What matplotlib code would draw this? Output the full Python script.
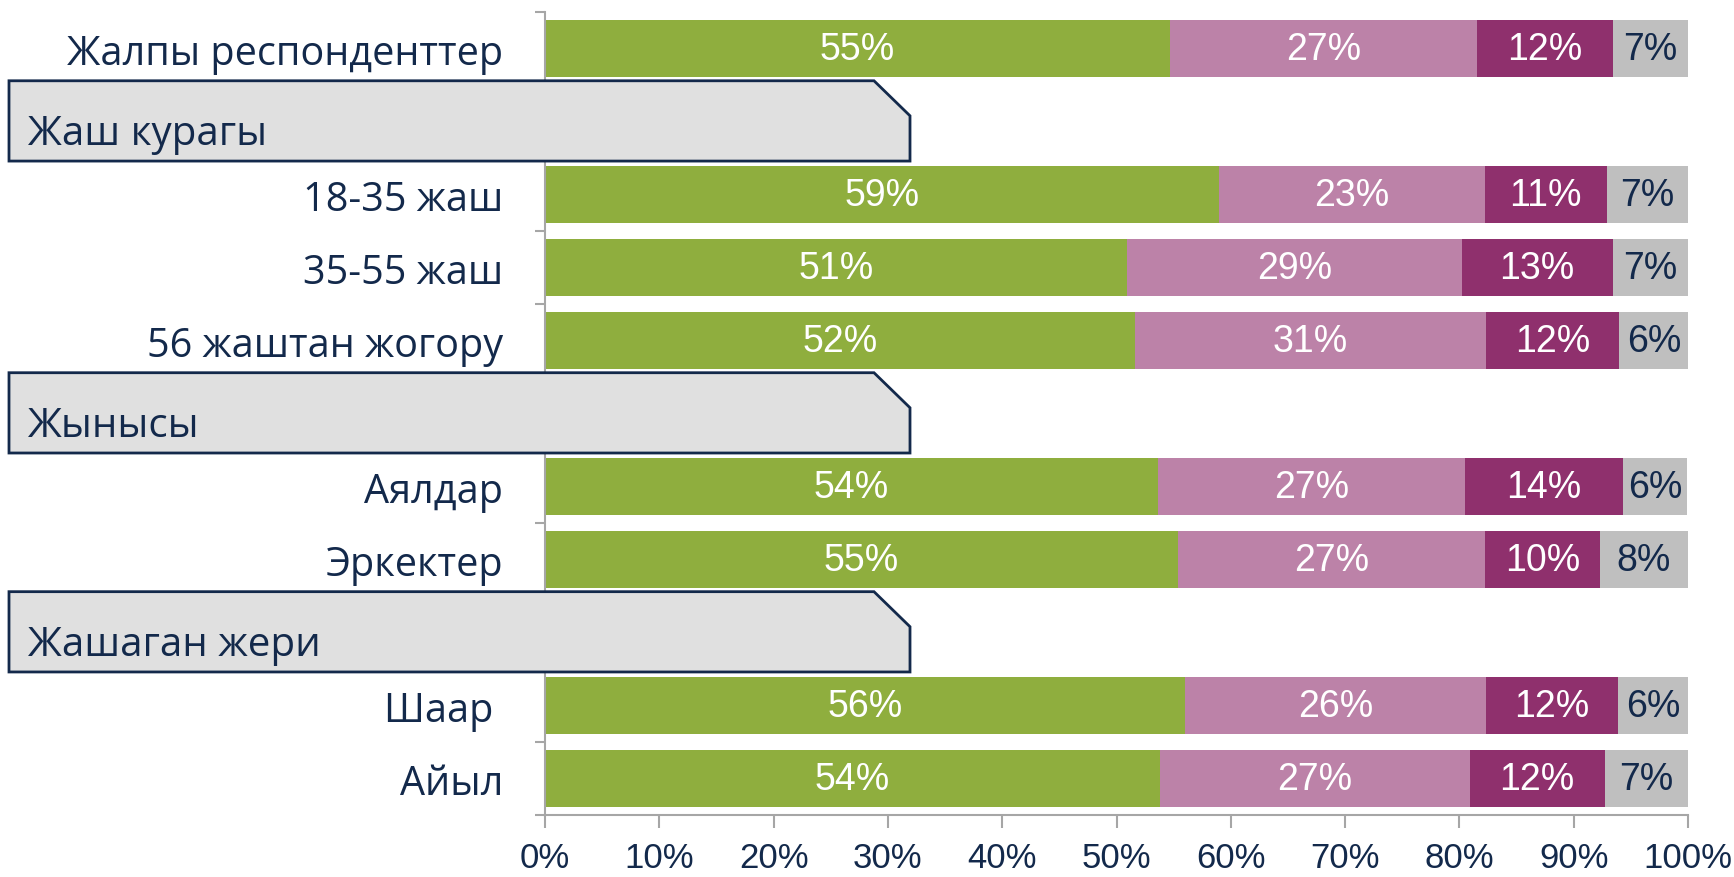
import matplotlib
matplotlib.use('Agg')
import matplotlib.pyplot as plt
from matplotlib.patches import Polygon
from matplotlib.transforms import blended_transform_factory
import numpy as np

# Row labels (empty strings = section header rows)
rows = ['Жалпы респонденттер', '', '18-35 жаш', '35-55 жаш', '56 жаштан жогору',
        '', 'Аялдар', 'Эркектер', '', 'Шаар ', 'Айыл']
headers = {1: 'Жаш курагы', 5: 'Жынысы', 8: 'Жашаган жери'}

# Shares per row (nan for header rows)
nan = np.nan
s1 = [54.7, nan, 59.0, 50.9, 51.6, nan, 53.6, 55.4, nan, 56.0, 53.8]
s2 = [26.8, nan, 23.2, 29.3, 30.7, nan, 26.9, 26.8, nan, 26.3, 27.1]
s3 = [11.9, nan, 10.7, 13.2, 11.7, nan, 13.8, 10.1, nan, 11.6, 11.8]
s4 = [6.6, nan, 7.1, 6.6, 6.1, nan, 5.6, 7.7, nan, 6.1, 7.3]

colors = ['#8FAE3E', '#BC82A8', '#8F306D', '#BFBFBF']
text_colors = ['white', 'white', 'white', '#13294B']
navy = '#13294B'
label_font = ['Open Sans', 'DejaVu Sans']
num_font = ['Liberation Sans Narrow', 'Liberation Sans', 'DejaVu Sans']

fig = plt.figure(figsize=(17.34, 8.78), dpi=100)
ax = fig.add_axes([0.3143, 0.0706, 0.9735 - 0.3143, 0.985 - 0.0706])

y = np.arange(len(rows))
left = np.zeros(len(rows))
for vals, c, tc in zip([s1, s2, s3, s4], colors, text_colors):
    v = np.array(vals)
    ax.barh(y, np.nan_to_num(v), left=left, height=0.79, color=c, edgecolor='none')
    for yi, (l, w) in enumerate(zip(left, v)):
        if not np.isnan(w):
            ax.text(l + w / 2, yi, f'{round(w)}%', ha='center', va='center',
                    color=tc, fontsize=27, family=num_font)
    left = left + np.nan_to_num(v)

ax.set_xlim(0, 100)
ax.set_ylim(len(rows) - 0.5, -0.5)
ax.set_xticks(np.arange(0, 101, 10))
ax.set_xticklabels([f'{t}%' for t in range(0, 101, 10)], family=num_font, fontsize=25, color=navy)
ax.set_yticks(y)
ax.set_yticklabels(rows, fontsize=28.5, color=navy, family=label_font)
ax.set_yticks(np.arange(-0.5, len(rows), 1), minor=True)
ax.tick_params(axis='y', which='major', length=0, pad=30)
ax.tick_params(axis='y', which='minor', length=7, color='#A6A6A6', width=1.5)
ax.tick_params(axis='x', length=9, color='#A6A6A6', width=1.5, pad=10)
for s in ['top', 'right']:
    ax.spines[s].set_visible(False)
for s in ['left', 'bottom']:
    ax.spines[s].set_color('#A6A6A6')
    ax.spines[s].set_linewidth(1.5)

# Section header boxes with a clipped top-right corner
tr = blended_transform_factory(fig.transFigure, ax.transData)
x0, x1, cut = 9 / 1734, 910 / 1734, 36 / 1734
for r, name in headers.items():
    top, bot = r - 0.56, r + 0.54
    pts = [(x0, top), (x1 - cut, top), (x1, top + 0.48), (x1, bot), (x0, bot)]
    ax.add_patch(Polygon(pts, closed=True, transform=tr, facecolor='#E0E0E0',
                         edgecolor=navy, linewidth=2, clip_on=False, zorder=5))
    ax.text(28 / 1734, r + 0.17, name, transform=tr, ha='left', va='center',
            fontsize=29, color=navy, family=label_font, zorder=6)

fig.savefig('out.png', dpi=100)
